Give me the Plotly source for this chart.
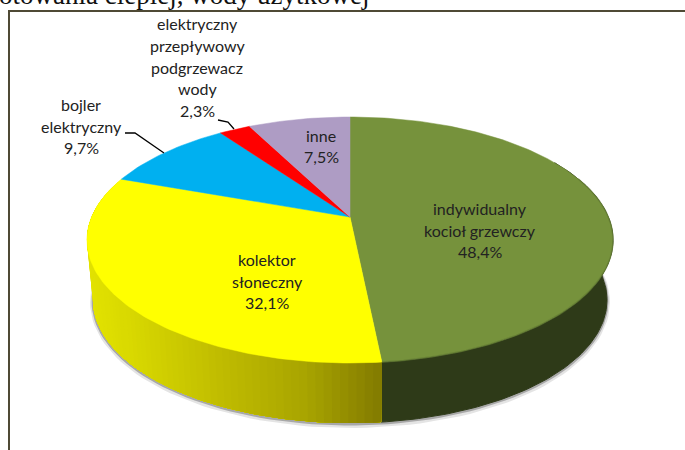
import math
import plotly.graph_objects as go

# ---- data ----
categories = ["indywidualny kocioł grzewczy", "kolektor słoneczny", "bojler elektryczny",
              "elektryczny przepływowy podgrzewacz wody", "inne"]
values = [48.4, 32.1, 9.7, 2.3, 7.5]
value_labels = ["48,4%", "32,1%", "9,7%", "2,3%", "7,5%"]
label_lines = [["indywidualny", "kocioł grzewczy"], ["kolektor", "słoneczny"], ["bojler", "elektryczny"],
               ["elektryczny", "przepływowy", "podgrzewacz", "wody"], ["inne"]]
colors = ["#76923c", "#ffff00", "#00b0f0", "#ff0000", "#ae9cc4"]
label_centers = [(480, 230), (267, 281), (81, 126), (197, 67), (321, 146)]
heading = "otowania ciepłej, wody użytkowej"

# ---- pie geometry (pixel space) ----
CX, CY = 350.0, 217.0
TILT = 0.187
R_X, R_Y = 258.4, 118.7
DEPTH = 60.0
LOWER_SCALE = 0.977
W, H = 685, 450


def project(theta_deg):
    t = math.radians(theta_deg)
    u, v = math.sin(t), math.cos(t)
    w = 1 + TILT * v
    return CX + R_X * u / w, CY - R_Y * v / w


def lower(theta_deg):
    x, y = project(theta_deg)
    return CX + (x - CX) * LOWER_SCALE, y + DEPTH


def arc(a, b, fn=project, step=1.0):
    n = max(2, int(abs(b - a) / step))
    return [fn(a + (b - a) * i / n) for i in range(n + 1)]


def poly(pts, color, width=1.0, line=None):
    return go.Scatter(x=[p[0] for p in pts] + [pts[0][0]], y=[p[1] for p in pts] + [pts[0][1]],
                      mode="lines", fill="toself", fillcolor=color,
                      line=dict(color=line or color, width=width),
                      hoverinfo="skip", showlegend=False)


def path(pts, color, width, opacity=1.0):
    return go.Scatter(x=[p[0] for p in pts], y=[p[1] for p in pts], mode="lines",
                      line=dict(color=color, width=width), opacity=opacity,
                      hoverinfo="skip", showlegend=False)


GRAD = [(88, (226, 226, 0)), (130, (216, 216, 0)), (219, (192, 188, 0)), (306, (168, 164, 0)), (382, (130, 122, 0))]


def gradient(x):
    if x <= GRAD[0][0]:
        c = GRAD[0][1]
    else:
        c = GRAD[-1][1]
        for (x0, c0), (x1, c1) in zip(GRAD, GRAD[1:]):
            if x0 <= x <= x1:
                f = (x - x0) / (x1 - x0)
                c = tuple(round(p + (q - p) * f) for p, q in zip(c0, c1))
                break
    return "rgb(%d,%d,%d)" % c


# cumulative angles, clockwise from 12 o'clock
total = sum(values)
edges = [0.0]
for val in values:
    edges.append(edges[-1] + 360.0 * val / total)

fig = go.Figure()

# soft shadow under the side wall
front = arc(75, 285, lower, 2)
fig.add_trace(path([(x, y + 2) for x, y in front], "#dedede", 6, 0.8))
fig.add_trace(path([(x, y + 1) for x, y in front], "#9a9a9a", 3, 0.8))

# side walls
a0, a1 = edges[0], edges[1]
fig.add_trace(poly(arc(a0 + 60, a1) + arc(a1, a0 + 60, lower), "#2e3a18"))
b0, b1 = edges[1], edges[2]
STEP = 1.5
th = b1
while th > b0:
    # painter's order: each band reaches to the seam, the next darker band covers it
    nx = max(th - STEP, b0)
    pts = arc(th, b0) + arc(b0, th, lower)
    fig.add_trace(poly(pts, gradient((project(th)[0] + project(nx)[0]) / 2), 0))
    th = nx

# top face
for i, col in enumerate(colors):
    pts = [(CX, CY)] + arc(edges[i], edges[i + 1])
    fig.add_trace(poly(pts, col, 0.5))
# rim shading
fig.add_trace(path(arc(70, edges[1]), "#5c7430", 1.5, 0.5))

# leader lines
fig.add_trace(path(list(zip([125, 135, 164], [133, 133, 153])), "#000000", 1.3))
fig.add_trace(path(list(zip([218, 228, 234], [120, 122, 129])), "#000000", 1.3))

# frame
fig.add_trace(path(list(zip([9, 9, W + 2], [H + 2, 11, 11])), "#4f4a35", 2))

LH = 21.7
ann = []
for lines, val, (xc, yc) in zip(label_lines, value_labels, label_centers):
    all_lines = lines + [val]
    start = yc - LH * (len(all_lines) - 1) / 2
    for k, t in enumerate(all_lines):
        ann.append(dict(x=xc, y=start + k * LH, text=t, xref="x", yref="y", showarrow=False,
                        xanchor="center", yanchor="middle",
                        font=dict(family="Lato", size=16, color="#222222")))
ann.append(dict(x=184 / W, y=1 + 5 / H, text=heading, xref="paper", yref="paper", showarrow=False,
                xanchor="center", yanchor="middle",
                font=dict(family="Liberation Serif", size=27, color="#111111")))

fig.update_layout(
    width=W, height=H, margin=dict(l=0, r=0, t=0, b=0),
    paper_bgcolor="white", plot_bgcolor="white", showlegend=False,
    xaxis=dict(range=[0, W], visible=False, fixedrange=True),
    yaxis=dict(range=[H, 0], visible=False, fixedrange=True),
    annotations=ann,
)
fig.write_html("out.html", config=dict(displayModeBar=False),
               post_script="document.body.style.margin='0';document.documentElement.style.overflow='hidden';")
